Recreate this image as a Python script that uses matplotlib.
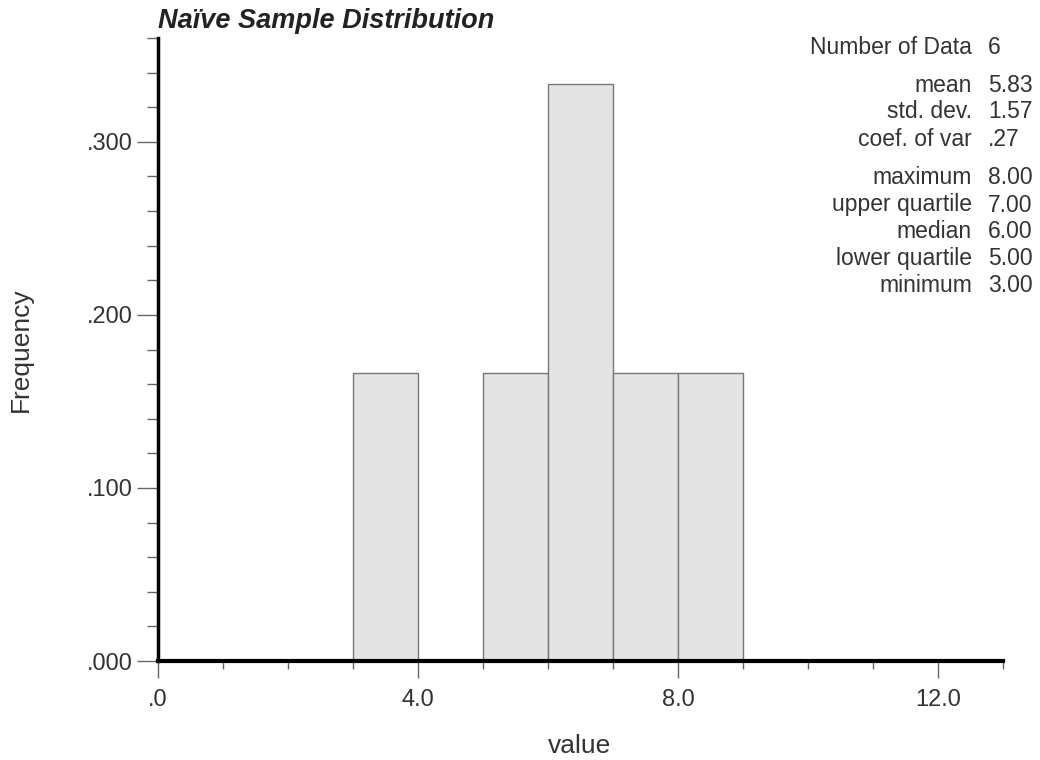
import numpy as np
import matplotlib.pyplot as plt
from matplotlib.ticker import MultipleLocator, FixedLocator

plt.rcParams['font.family'] = ['Liberation Sans', 'DejaVu Sans']

# Dados
sample = [3.0, 5.0, 6.0, 6.0, 7.0, 8.0]
bin_edges = np.arange(0, 14, 1.0)
stat_labels = ['Number of Data', 'mean', 'std. dev.', 'coef. of var',
               'maximum', 'upper quartile', 'median', 'lower quartile', 'minimum']
stat_values = ['6', '5.83', '1.57', '.27', '8.00', '7.00', '6.00', '5.00', '3.00']
stat_rows_y = [48, 85, 112, 140, 178, 205, 231, 258, 285]  # pixel rows from top

fig = plt.figure(figsize=(10.4, 7.6), dpi=100)
ax = fig.add_axes([158 / 1040, 1 - 661 / 760, (1003 - 158) / 1040, (661 - 38) / 760])

weights = np.ones(len(sample)) / len(sample)
ax.hist(sample, bins=bin_edges, weights=weights, color='#e4e4e4',
        edgecolor='#787878', linewidth=1.0, zorder=2)

ax.set_xlim(0, 13)
ax.set_ylim(0, 0.36)

for s in ['top', 'right']:
    ax.spines[s].set_visible(False)
ax.spines['left'].set_linewidth(2.5)
ax.spines['bottom'].set_linewidth(3.0)
ax.spines['bottom'].set_zorder(3)

# Ticks
ax.xaxis.set_major_locator(FixedLocator([0, 4, 8, 12]))
ax.xaxis.set_minor_locator(MultipleLocator(1))
ax.set_xticklabels(['.0', '4.0', '8.0', '12.0'])
ax.yaxis.set_major_locator(FixedLocator([0, 0.1, 0.2, 0.3]))
ax.yaxis.set_minor_locator(MultipleLocator(0.02))
ax.set_yticklabels(['.000', '.100', '.200', '.300'])
ax.tick_params(axis='both', which='both', colors='#666666', labelcolor='#333333', width=1.0)
ax.tick_params(axis='both', which='major', labelsize=17)
ax.tick_params(axis='y', which='major', length=15, pad=3)
ax.tick_params(axis='y', which='minor', length=8)
ax.tick_params(axis='x', which='major', length=12, pad=8)
ax.tick_params(axis='x', which='minor', length=6)

ax.set_xlabel('value', fontsize=19, color='#333333')
ax.xaxis.set_label_coords(0.4994, -0.117)
ax.set_ylabel('Frequency', fontsize=19, color='#333333')
ax.yaxis.set_label_coords(-0.148, 0.5)

fig.text(158 / 1040, 1 - 21 / 760, 'Naïve Sample Distribution', fontsize=19.5,
         fontweight='bold', fontstyle='italic', color='#222222', va='center', ha='left')

for lab, val, yp in zip(stat_labels, stat_values, stat_rows_y):
    fig.text(972 / 1040, 1 - yp / 760, lab, fontsize=16.5, color='#333333',
             ha='right', va='center')
    fig.text(988 / 1040, 1 - yp / 760, val, fontsize=16.5, color='#333333',
             ha='left', va='center')

fig.savefig('out.png', dpi=100)
